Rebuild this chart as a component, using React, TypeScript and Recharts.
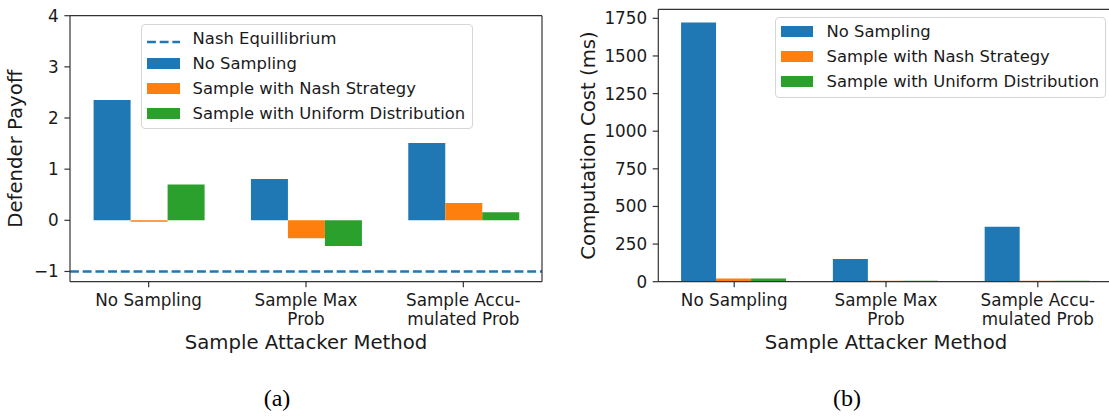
import { BarChart, Bar, XAxis, YAxis, ReferenceLine, Legend } from 'recharts';

const categories = ['No Sampling', 'Sample Max\nProb', 'Sample Accu-\nmulated Prob'];

const seriesNames = ['No Sampling', 'Sample with Nash Strategy', 'Sample with Uniform Distribution'];
const seriesColors = ['#1f77b4', '#ff7f0e', '#2ca02c'];

const payoffNoSampling = [2.35, 0.81, 1.51];
const payoffNash = [-0.03, -0.35, 0.34];
const payoffUniform = [0.7, -0.5, 0.16];
const nashEquilibrium = -1;
const nashLabel = 'Nash Equillibrium';

const costNoSampling = [1723, 151, 365];
const costNash = [22, 7, 7];
const costUniform = [22, 7, 7];

const payoffTicks = [-1, 0, 1, 2, 3, 4];
const costTicks = [0, 250, 500, 750, 1000, 1250, 1500, 1750];

const payoffData = categories.map((name, i) => ({
  name,
  noSampling: payoffNoSampling[i],
  nash: payoffNash[i],
  uniform: payoffUniform[i],
}));

const costData = categories.map((name, i) => ({
  name,
  noSampling: costNoSampling[i],
  nash: costNash[i],
  uniform: costUniform[i],
}));

const FONT = '"DejaVu Sans", sans-serif';
const INK = '#1a1a1a';
const SPINE = '#333';
const TICK_SIZE = 16.8;
const TITLE_SIZE = 19.7;

const fmt = (v: number) => (v < 0 ? '\u2212' + Math.abs(v) : String(v));

const CatTick = (props: any) => {
  const { x, y, payload } = props;
  const lines = String(payload.value).split('\n');
  return (
    <text x={x} y={y} textAnchor="middle" fill={INK} fontSize={TICK_SIZE} fontFamily={FONT}>
      {lines.map((l, i) => (
        <tspan key={i} x={x} dy={i === 0 ? 18.5 : 19.5}>
          {l}
        </tspan>
      ))}
    </text>
  );
};

const XTitle = (props: any) => {
  const { viewBox, value } = props;
  const { x, y, width } = viewBox;
  return (
    <text x={x + width / 2} y={y + 67} textAnchor="middle" fill={INK} fontSize={TITLE_SIZE} fontFamily={FONT}>
      {value}
    </text>
  );
};

const YTitle = (props: any) => {
  const { viewBox, value, dx } = props;
  const { x, y, height } = viewBox;
  const cx = x + dx;
  const cy = y + height / 2;
  return (
    <text x={cx} y={cy} transform={`rotate(-90 ${cx} ${cy})`} textAnchor="middle" fill={INK} fontSize={TITLE_SIZE} fontFamily={FONT}>
      {value}
    </text>
  );
};

const boxStyle = (w: number, h: number): React.CSSProperties => ({
  position: 'relative',
  width: w,
  height: h,
  boxSizing: 'border-box',
  border: '1px solid #d6d6d6',
  borderRadius: 4,
  background: 'rgba(255,255,255,0.8)',
  fontFamily: FONT,
  fontSize: 16.4,
  color: INK,
});

const LegendRow = ({ row, label, children }: any) => (
  <>
    <div style={{ position: 'absolute', left: 5, top: 13.5 + row * 25 - 6, width: 33, height: 12 }}>{children}</div>
    <div style={{ position: 'absolute', left: 51, top: 13.5 + row * 25 - 12.5, height: 25, lineHeight: '25px', whiteSpace: 'nowrap' }}>
      {label}
    </div>
  </>
);

const PayoffLegend = () => (
  <div style={boxStyle(332, 105)}>
    <LegendRow row={0} label={nashLabel}>
      <svg width={33} height={12}>
        <line x1={0} x2={33} y1={6} y2={6} stroke={seriesColors[0]} strokeWidth={2.4} strokeDasharray="8.9 3.8" />
      </svg>
    </LegendRow>
    {seriesNames.map((n, i) => (
      <LegendRow key={n} row={i + 1} label={n}>
        <div style={{ width: 33, height: 11.5, background: seriesColors[i] }} />
      </LegendRow>
    ))}
  </div>
);

const CostLegend = () => (
  <div style={boxStyle(331, 80.5)}>
    {seriesNames.map((n, i) => (
      <LegendRow key={n} row={i} label={n}>
        <div style={{ width: 32, height: 11.5, background: seriesColors[i] }} />
      </LegendRow>
    ))}
  </div>
);

const seriesKeys = ['noSampling', 'nash', 'uniform'];

export default function App() {
  return (
    <div style={{ position: 'absolute', left: 0, top: 0, width: 1109, height: 420, overflow: 'hidden', background: '#fff' }}>
      <div style={{ position: 'absolute', left: 0, top: 0 }}>
        <BarChart width={555} height={360} data={payoffData} margin={{ top: 14.7, right: 12, bottom: 6.3, left: 0 }} barCategoryGap="15%" barGap={0}>
          <XAxis
            dataKey="name"
            height={72}
            interval={0}
            tick={<CatTick />}
            tickSize={5.6}
            tickMargin={0}
            axisLine={{ stroke: SPINE, strokeWidth: 1.2 }}
            tickLine={{ stroke: SPINE, strokeWidth: 1.2 }}
            label={<XTitle value="Sample Attacker Method" />}
          />
          <XAxis xAxisId="top" orientation="top" dataKey="name" height={1} tick={false} tickLine={false} axisLine={{ stroke: SPINE, strokeWidth: 1.2 }} />
          <YAxis
            type="number"
            width={70}
            domain={[-1.2, 4]}
            ticks={payoffTicks}
            allowDataOverflow
            tickSize={5.6}
            tickMargin={5.6}
            tickFormatter={fmt}
            tick={{ fontSize: TICK_SIZE, fill: INK, fontFamily: FONT }}
            axisLine={{ stroke: SPINE, strokeWidth: 1.2 }}
            tickLine={{ stroke: SPINE, strokeWidth: 1.2 }}
            label={<YTitle value="Defender Payoff" dx={22} />}
          />
          <YAxis yAxisId="right" orientation="right" type="number" width={1} domain={[-1.2, 4]} tick={false} tickLine={false} axisLine={{ stroke: SPINE, strokeWidth: 1.2 }} />
          <ReferenceLine y={nashEquilibrium} stroke={seriesColors[0]} strokeWidth={2.4} strokeDasharray="8.9 3.8" />
          {seriesKeys.map((k, i) => (
            <Bar key={k} dataKey={k} name={seriesNames[i]} fill={seriesColors[i]} isAnimationActive={false} />
          ))}
          <Legend
            layout="vertical"
            align="center"
            verticalAlign="middle"
            content={<PayoffLegend />}
            wrapperStyle={{ left: 140.6, top: 24, width: 332, height: 105 }}
          />
        </BarChart>
      </div>
      <div style={{ position: 'absolute', left: 555, top: 0 }}>
        <BarChart width={600} height={360} data={costData} margin={{ top: 8.3, right: 41.3, bottom: 6.3, left: 0 }} barCategoryGap="15%" barGap={0}>
          <XAxis
            dataKey="name"
            height={72}
            interval={0}
            tick={<CatTick />}
            tickSize={5.6}
            tickMargin={0}
            axisLine={{ stroke: SPINE, strokeWidth: 1.2 }}
            tickLine={{ stroke: SPINE, strokeWidth: 1.2 }}
            label={<XTitle value="Sample Attacker Method" />}
          />
          <XAxis xAxisId="top" orientation="top" dataKey="name" height={1} tick={false} tickLine={false} axisLine={{ stroke: SPINE, strokeWidth: 1.2 }} />
          <YAxis
            type="number"
            width={103.3}
            domain={[0, 1810]}
            ticks={costTicks}
            allowDataOverflow
            tickSize={5.6}
            tickMargin={5.6}
            tick={{ fontSize: TICK_SIZE, fill: INK, fontFamily: FONT }}
            axisLine={{ stroke: SPINE, strokeWidth: 1.2 }}
            tickLine={{ stroke: SPINE, strokeWidth: 1.2 }}
            label={<YTitle value="Computation Cost (ms)" dx={39.5} />}
          />
          {seriesKeys.map((k, i) => (
            <Bar key={k} dataKey={k} name={seriesNames[i]} fill={seriesColors[i]} isAnimationActive={false} />
          ))}
          <Legend
            layout="vertical"
            align="center"
            verticalAlign="middle"
            content={<CostLegend />}
            wrapperStyle={{ left: 219.5, top: 17.3, width: 331, height: 80.5 }}
          />
        </BarChart>
      </div>
      <div style={{ position: 'absolute', left: 227, top: 385, width: 100, textAlign: 'center', fontFamily: '"Liberation Serif", serif', fontSize: 24, color: '#000' }}>(a)</div>
      <div style={{ position: 'absolute', left: 797, top: 385, width: 100, textAlign: 'center', fontFamily: '"Liberation Serif", serif', fontSize: 24, color: '#000' }}>(b)</div>
    </div>
  );
}
